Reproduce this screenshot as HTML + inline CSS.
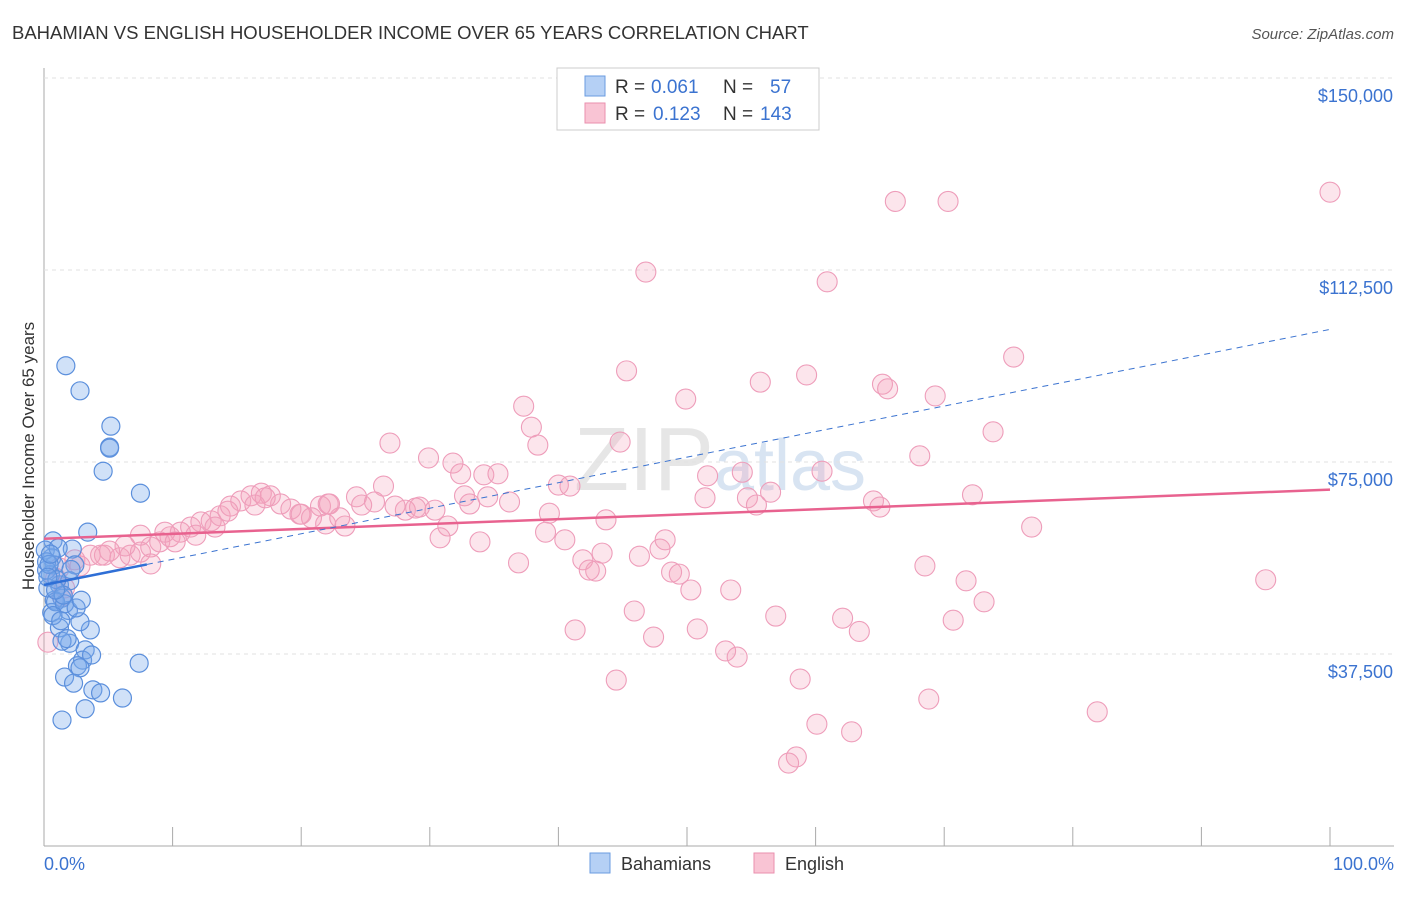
<!DOCTYPE html>
<html><head><meta charset="utf-8"><style>
body{margin:0;background:#fff;font-family:"Liberation Sans",sans-serif}
svg text{font-family:"Liberation Sans",sans-serif}
</style></head><body>
<svg id="c" width="1406" height="892">
<text x="12" y="39" font-size="18.5" fill="#333">BAHAMIAN VS ENGLISH HOUSEHOLDER INCOME OVER 65 YEARS CORRELATION CHART</text>
<text x="1394" y="39" font-size="15" fill="#555" text-anchor="end" font-style="italic">Source: ZipAtlas.com</text>
<text x="720" y="490" font-size="90" fill="#e6e6e6" text-anchor="middle" font-family="Liberation Serif">ZIP<tspan fill="#d8e4f2" font-family="Liberation Sans" font-size="72">atlas</tspan></text>
<g id="grid"></g><g id="marks"></g>
<text transform="translate(34,456) rotate(-90)" font-size="17" fill="#333" text-anchor="middle">Householder Income Over 65 years</text>
<text x="44" y="870" font-size="18" fill="#3b73d0">0.0%</text>
<text x="1394" y="870" font-size="18" fill="#3b73d0" text-anchor="end">100.0%</text>
<g>
<rect x="557" y="68" width="262" height="62" fill="#fff" stroke="#ccc"/>
<rect x="585" y="76" width="20" height="20" fill="#b5d0f5" stroke="#6a9be0"/>
<rect x="585" y="103" width="20" height="20" fill="#f9c4d4" stroke="#ea8fae"/>
<text x="615" y="93" font-size="19" fill="#333">R =</text>
<text x="651" y="93" font-size="19" fill="#3b73d0">0.061</text>
<text x="723" y="93" font-size="19" fill="#333">N =</text>
<text x="770" y="93" font-size="19" fill="#3b73d0">57</text>
<text x="615" y="120" font-size="19" fill="#333">R =</text>
<text x="653" y="120" font-size="19" fill="#3b73d0">0.123</text>
<text x="723" y="120" font-size="19" fill="#333">N =</text>
<text x="760" y="120" font-size="19" fill="#3b73d0">143</text>
</g>
<g>
<rect x="590" y="853" width="20" height="20" fill="#b5d0f5" stroke="#6a9be0"/>
<text x="621" y="870" font-size="18" fill="#333">Bahamians</text>
<rect x="754" y="853" width="20" height="20" fill="#f9c4d4" stroke="#ea8fae"/>
<text x="785" y="870" font-size="18" fill="#333">English</text>
</g>
</svg>
<script>
const yTicks=[37500,75000,112500,150000];
const yTickLabels=["$37,500","$75,000","$112,500","$150,000"];
const blueX=[1.7,2.8,5.2,5.1,5.1,4.6,7.5,3.4,2.2,0.7,0.6,0.8,0.5,1.2,2.4,0.1,0.2,0.8,1.4,2.0,1.9,0.6,3.6,2.8,1.2,2.0,3.2,3.0,3.7,1.4,7.4,2.6,2.8,1.6,2.3,3.8,4.4,6.1,3.2,1.4,0.3,0.9,1.6,0.2,1.1,0.4,1.0,1.5,2.5,0.3,0.7,1.8,2.1,0.5,1.3,2.9,0.9];
const blueY=[93.8,88.9,82.0,77.9,77.7,73.2,68.9,61.3,58.0,59.6,56.3,54.9,53.0,51.0,54.9,57.8,53.9,48.0,48.4,51.8,46.0,45.6,42.2,43.8,42.6,39.6,38.3,36.3,37.3,40.0,35.7,35.2,34.8,33.0,31.8,30.5,29.9,28.9,26.8,24.6,50.4,47.7,47.3,55.5,58.2,55.0,52.0,49.0,46.5,52.5,45.0,40.5,54.0,57.0,44.0,48.0,50.0];
const pinkX=[100,66.2,70.3,46.8,60.9,75.4,45.3,59.3,55.7,65.2,65.6,69.3,49.9,37.3,37.9,73.8,26.9,38.4,44.8,29.9,68.1,31.8,32.4,34.2,35.3,60.5,54.3,51.6,40.0,40.9,26.4,32.7,34.5,36.2,33.1,39.3,51.4,54.7,56.5,55.4,64.5,65.0,72.2,76.8,43.7,21.5,19.9,24.3,23.4,28.1,29.2,30.4,31.4,30.8,33.9,39.0,40.5,43.4,41.9,42.9,46.3,47.9,48.3,48.8,49.4,50.3,53.4,36.9,42.4,45.9,47.4,41.3,50.8,53.0,53.9,56.9,62.1,63.4,68.5,71.7,73.1,70.7,95.0,44.5,58.8,68.8,81.9,60.1,62.8,58.5,57.9,1.2,2.4,3.6,4.7,5.9,6.7,7.5,8.3,9.0,9.8,10.6,11.4,12.2,13.0,13.7,14.5,15.3,16.1,16.9,17.6,18.4,19.2,20.0,20.8,22.1,8.3,9.4,10.2,11.8,13.3,14.3,16.4,17.2,4.4,6.3,5.1,0.9,1.6,0.3,1.4,2.8,7.5,22.2,21.9,24.7,25.7,27.3,28.9,23.0];
const pinkY=[127.7,125.9,125.9,112.1,110.2,95.5,92.8,92.0,90.6,90.2,89.3,87.9,87.3,85.9,81.8,80.9,78.7,78.3,78.9,75.8,76.2,74.8,72.7,72.5,72.7,73.2,73.0,72.3,70.5,70.3,70.3,68.4,68.2,67.2,66.8,65.0,68.0,68.0,69.1,66.6,67.4,66.2,68.6,62.3,63.7,66.4,64.8,68.2,62.5,65.6,66.2,65.6,62.5,60.2,59.4,61.3,59.8,57.2,55.9,53.7,56.6,58.0,59.8,53.5,53.1,50.0,50.0,55.3,53.9,45.9,40.8,42.2,42.4,38.1,36.9,44.9,44.5,41.9,54.7,51.8,47.7,44.1,52.0,32.4,32.6,28.7,26.2,23.8,22.3,17.4,16.2,54.3,55.9,56.8,56.8,56.3,56.8,57.4,58.4,59.4,60.4,61.3,62.3,63.3,63.5,64.5,66.4,67.4,68.4,68.9,68.4,66.8,65.8,64.8,64.1,66.8,55.1,61.3,59.4,60.7,62.3,65.4,66.6,68.0,56.8,58.6,57.6,52.3,50.4,39.8,48.8,54.7,60.7,66.8,62.9,66.6,67.2,66.4,66.0,64.1];
const blueTrend=[51.0,100];
const X0=44,X1=1330,YB=846,PXK=5.12;
const sx=v=>X0+(X1-X0)*v/100, sy=v=>YB-v*PXK;
const ns="http://www.w3.org/2000/svg";
const grid=document.getElementById('grid'),marks=document.getElementById('marks');
function mk(tag,at,par){const e=document.createElementNS(ns,tag);for(const k in at)e.setAttribute(k,at[k]);par.appendChild(e);return e;}
let a=mk('line',{x1:44,y1:68,x2:44,y2:846,stroke:'#aaa'},grid);


a=mk('line',{x1:44,y1:846,x2:1394,y2:846,stroke:'#aaa'},grid);


for(let i=0;i<=10;i++){const t=mk('line',{x1:sx(i*10),x2:sx(i*10),y1:827,y2:846,stroke:'#aaa'},grid);

}
yTicks.forEach((v,i)=>{const y=sy(v/1000);
const g=mk('line',{x1:44,x2:1394,y1:y,y2:y,stroke:'#e2e2e2','stroke-dasharray':'4,4'},grid);


const t=mk('text',{x:1393,y:y+24,'font-size':18,fill:'#3b73d0','text-anchor':'end'},grid);t.textContent=yTickLabels[i];

});
pinkX.forEach((x,i)=>{const c=mk('circle',{cx:sx(x),cy:sy(pinkY[i]),r:10,fill:'rgba(244,160,188,0.28)',stroke:'#ee9dba','stroke-width':1.1},marks);

});
blueX.forEach((x,i)=>{const c=mk('circle',{cx:sx(x),cy:sy(blueY[i]),r:9,fill:'rgba(120,170,235,0.35)',stroke:'#5b8fdc','stroke-width':1.2},marks);

});
const pf=[60.0,(69.6-60.0)/100];
let l=mk('line',{x1:sx(0),y1:sy(pf[0]),x2:sx(100),y2:sy(pf[0]+pf[1]*100),stroke:'#e8628f','stroke-width':2.5},marks);


const bf=[blueTrend[0],(100.9-blueTrend[0])/100];
l=mk('line',{x1:sx(8),y1:sy(bf[0]+bf[1]*8),x2:sx(blueTrend[1]),y2:sy(bf[0]+bf[1]*blueTrend[1]),stroke:'#3b73d0','stroke-width':1,'stroke-dasharray':'6,5'},marks);


l=mk('line',{x1:sx(0),y1:sy(bf[0]),x2:sx(8),y2:sy(bf[0]+bf[1]*8),stroke:'#2f6fd6','stroke-width':2.5},marks);


</script>
</body></html>
